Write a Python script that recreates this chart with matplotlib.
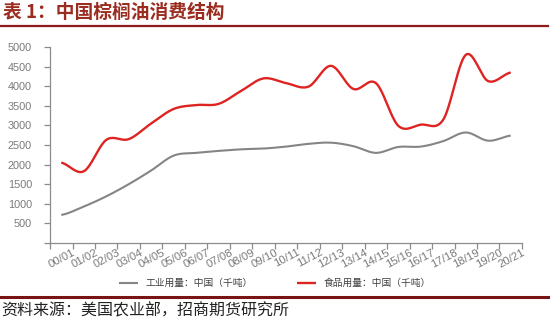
import numpy as np
import matplotlib.pyplot as plt
from matplotlib.transforms import ScaledTranslation

plt.rcParams['font.family'] = ['Noto Sans CJK SC', 'DejaVu Sans']

seasons = ['00/01', '01/02', '02/03', '03/04', '04/05', '05/06', '06/07',
           '07/08', '08/09', '09/10', '10/11', '11/12', '12/13', '13/14',
           '14/15', '15/16', '16/17', '17/18', '18/19', '19/20', '20/21']
industrial = [715, 930, 1190, 1500, 1850, 2230, 2300, 2350, 2390, 2410, 2460,
              2530, 2560, 2470, 2300, 2450, 2460, 2600, 2820, 2610, 2740]
food = [2050, 1830, 2630, 2650, 3050, 3420, 3520, 3550, 3880, 4200, 4080,
        3990, 4520, 3930, 4080, 2990, 3020, 3150, 4800, 4130, 4350]
yticks = list(range(0, 5001, 500))


def smooth(y, n=20):
    # Catmull-Rom curve through every point (same look as a spreadsheet "smoothed line")
    y = np.asarray(y, dtype=float)
    p = np.concatenate([[y[0]], y, [y[-1]]])
    xs, ys = [], []
    t = np.linspace(0, 1, n, endpoint=False)
    for i in range(len(y) - 1):
        p0, p1, p2, p3 = p[i], p[i + 1], p[i + 2], p[i + 3]
        seg = 0.5 * ((2 * p1) + (-p0 + p2) * t +
                     (2 * p0 - 5 * p1 + 4 * p2 - p3) * t ** 2 +
                     (-p0 + 3 * p1 - 3 * p2 + p3) * t ** 3)
        xs.extend(i + t)
        ys.extend(seg)
    xs.append(len(y) - 1)
    ys.append(y[-1])
    return np.array(xs), np.array(ys)


fig = plt.figure(figsize=(5.5, 3.35), dpi=100)
ax = fig.add_axes([0.091, 0.2746, 0.858, 0.585])

x = np.arange(len(seasons))
gx, gy = smooth(industrial)
rx, ry = smooth(food)
ax.plot(gx, gy, color='#858585', lw=1.5, label='工业用量：中国（千吨）', solid_capstyle='butt')
ax.plot(rx, ry, color='#DD2422', lw=1.7, label='食品用量：中国（千吨）', solid_capstyle='butt')

ax.set_xlim(-0.5, len(seasons) - 0.5)
ax.set_ylim(0, 5000)
ax.set_yticks(yticks)
ax.set_yticklabels([''] + [str(v) for v in yticks[1:]])
for sp in ['top', 'right']:
    ax.spines[sp].set_visible(False)
for sp in ['left', 'bottom']:
    ax.spines[sp].set_color('#8c8c8c')
    ax.spines[sp].set_linewidth(0.9)

# tick marks sit on the category boundaries, labels under the centres
ax.set_xticks(np.arange(-0.5, len(seasons), 1.0))
ax.set_xticklabels([])
ax.set_xticks(x, minor=True)
ax.set_xticklabels(seasons, minor=True, rotation=28, ha='right',
                   rotation_mode='anchor', fontsize=8.2, color='#7a7a7a',
                   family='Liberation Sans')
ax.tick_params(axis='x', which='minor', length=0, pad=3)
ax.tick_params(axis='x', which='major', length=4, color='#8c8c8c', width=0.9)
ax.tick_params(axis='y', length=4, color='#8c8c8c', width=0.9, pad=9,
               labelsize=7.8, labelcolor='#7a7a7a')
for lbl in ax.get_yticklabels():
    lbl.set_family('Liberation Sans')
shift = ScaledTranslation(11 / 100, 0, fig.dpi_scale_trans)
for lbl in ax.get_xticklabels(minor=True):
    lbl.set_transform(lbl.get_transform() + shift)

leg = fig.legend(loc='center', bbox_to_anchor=(0.5, 0.155), ncol=2, frameon=False,
                 fontsize=7, handlelength=2.0, handletextpad=0.8, columnspacing=4.5)
for t in leg.get_texts():
    t.set_color('#404040')

fig.text(0.005, 0.962, '表 1：中国棕榈油消费结构', fontsize=13.5, fontweight='bold',
         color='#9B2C20', va='center', ha='left')
fig.add_artist(plt.Line2D([0, 0.996], [0.921, 0.921], color='#8E1B1B', lw=1.6))
fig.add_artist(plt.Line2D([0, 1], [0.113, 0.113], color='#7A1414', lw=2.2))
fig.text(0.003, 0.072, '资料来源：美国农业部，招商期货研究所', fontsize=11.5,
         color='#222222', va='center', ha='left')

fig.savefig('out.png', dpi=100)
